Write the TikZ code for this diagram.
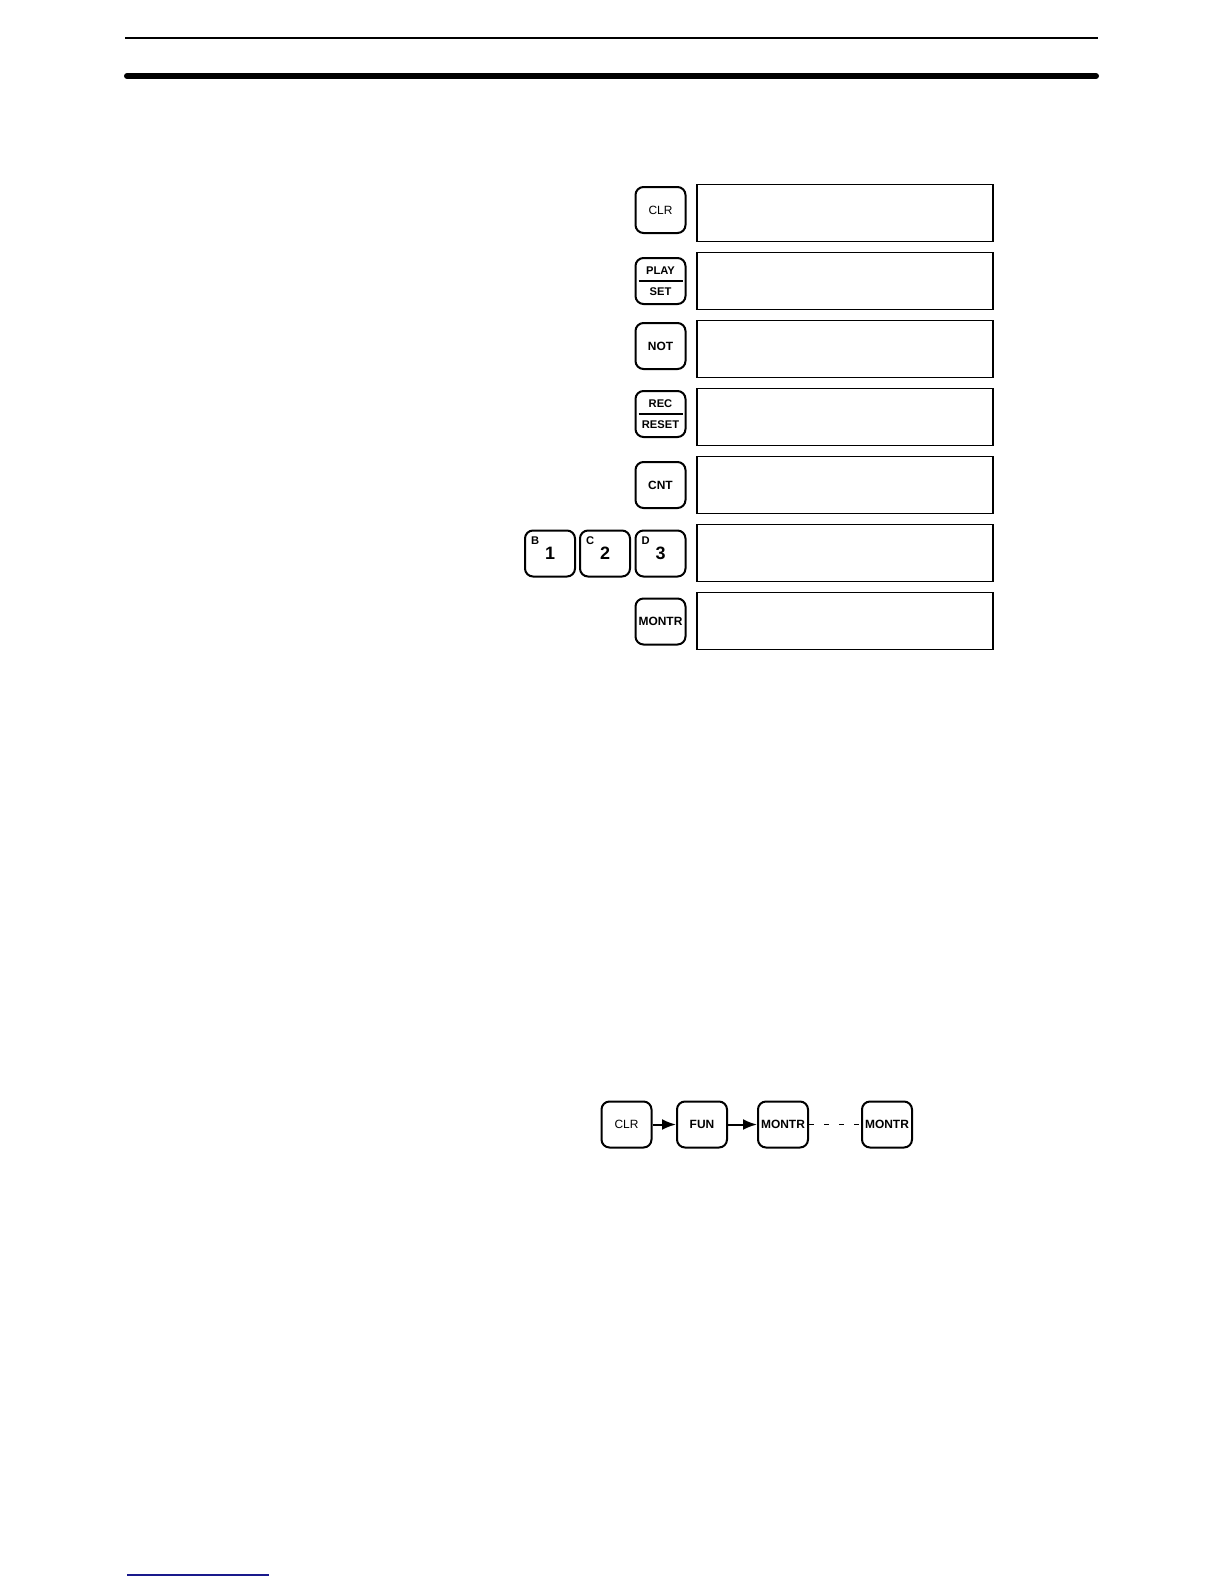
\documentclass[tikz,border=0pt]{standalone}
\usepackage{fontspec}
\setmainfont{Liberation Sans}
\usetikzlibrary{arrows.meta}
\definecolor{linkblue}{RGB}{25,25,140}

\begin{document}
\begin{tikzpicture}[x=0.5bp,y=-0.5bp,
  key/.style={draw,line width=1bp,rounded corners=4bp,minimum width=25bp,
    minimum height=23bp,inner sep=0pt,font=\fontsize{6}{7}\selectfont\bfseries},
  plainkey/.style={key,font=\fontsize{6}{7}\selectfont},
  digitkey/.style={key,font=\fontsize{9}{10}\selectfont\bfseries},
  keytext/.style={inner sep=0pt,font=\fontsize{5.6}{6}\selectfont\bfseries},
  corner/.style={anchor=north west,inner sep=3.3bp,font=\fontsize{5.6}{6}\selectfont\bfseries},
  screen/.style={draw,line width=0.7bp,minimum width=148bp,minimum height=28.5bp,inner sep=0pt},
  flow/.style={line width=1bp,-{Latex[length=7bp,width=5.5bp]}}]
\useasboundingbox (0,0) rectangle (1224,1584);
\draw[line width=1bp] (125,38) -- (1098,38);           % page rules
\draw[line width=3bp,line cap=round] (127,76) -- (1096,76);
\draw[linkblue,line width=0.8bp] (127,1575) -- (269,1575);
% keys and display windows
\node[screen] (scr1) at (845,213) {};
\node[plainkey] (clr) at (660.5,210) {CLR};
\node[screen] (scr2) at (845,281) {};
\node[key] (play) at (660.5,281) {};
\node[keytext] (playtop) at ([yshift=5bp]play.center) {PLAY};
\node[keytext] (playbot) at ([yshift=-5.5bp]play.center) {SET};
\draw[line width=0.7bp] ([xshift=2bp]play.west) -- ([xshift=-2bp]play.east);
\node[screen] (scr3) at (845,349) {};
\node[key] (not) at (660.5,346) {NOT};
\node[screen] (scr4) at (845,417) {};
\node[key] (rec) at (660.5,414) {};
\node[keytext] (rectop) at ([yshift=5bp]rec.center) {REC};
\node[keytext] (recbot) at ([yshift=-5.5bp]rec.center) {RESET};
\draw[line width=0.7bp] ([xshift=2bp]rec.west) -- ([xshift=-2bp]rec.east);
\node[screen] (scr5) at (845,485) {};
\node[key] (cnt) at (660.5,485) {CNT};
\node[screen] (scr6) at (845,553) {};
\node[digitkey] (one) at (550,553.5) {1};
\node[corner] at (one.north west) {B};
\node[digitkey] (two) at (605,553.5) {2};
\node[corner] at (two.north west) {C};
\node[digitkey] (three) at (660.5,553.5) {3};
\node[corner] at (three.north west) {D};
\node[screen] (scr7) at (845,621) {};
\node[key] (montr) at (660.5,621.5) {MONTR};
% key sequence
\node[plainkey] (sclr) at (626.5,1124.5) {CLR};
\node[key] (sfun) at (702,1124.5) {FUN};
\node[key] (smon) at (783,1124.5) {MONTR};
\node[key] (smon2) at (887,1124.5) {MONTR};
\draw[flow] (sclr) -- (sfun);
\draw[flow] (sfun) -- (smon);
\draw[line width=0.5bp,dash pattern=on 2.5bp off 5bp] (smon) -- (smon2);
\end{tikzpicture}
\end{document}
